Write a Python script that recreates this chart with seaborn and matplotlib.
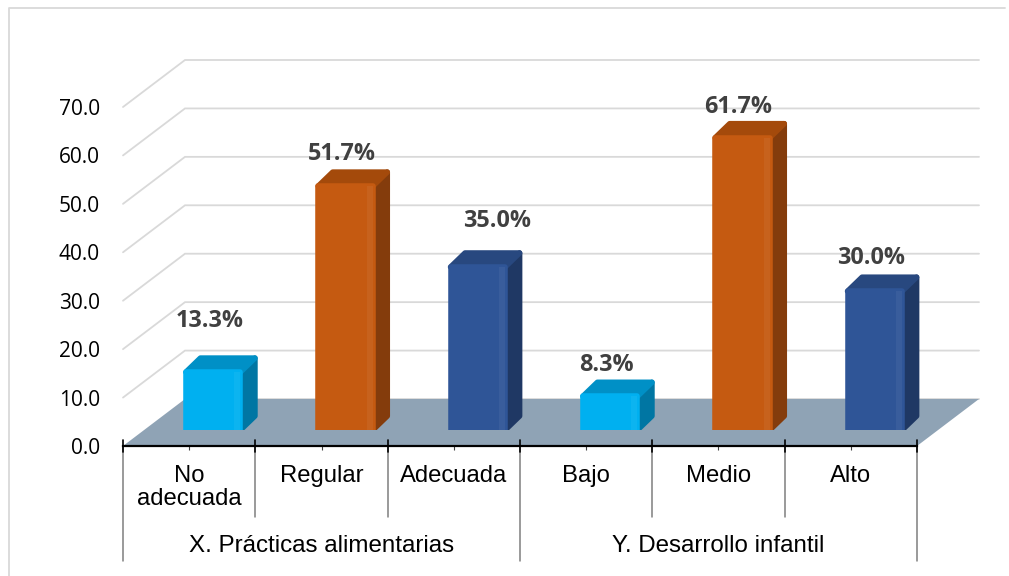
import matplotlib
matplotlib.use("Agg")
import matplotlib.pyplot as plt
from matplotlib.lines import Line2D
from matplotlib.patches import Polygon, Rectangle
import pandas as pd
import seaborn as sns

# Datos
categorias = ["No\nadecuada", "Regular", "Adecuada", "Bajo", "Medio", "Alto"]
valores = [13.3, 51.7, 35.0, 8.3, 61.7, 30.0]
etiquetas = ["13.3%", "51.7%", "35.0%", "8.3%", "61.7%", "30.0%"]
grupos = ["X. Prácticas alimentarias", "Y. Desarrollo infantil"]
ticks_y = [0, 10, 20, 30, 40, 50, 60, 70]

# Colores
col_frente = ["#00B0F0", "#C55A11", "#2F5597", "#00B0F0", "#C55A11", "#2F5597"]
col_lado = ["#0076A3", "#843C0C", "#1F3864", "#0076A3", "#843C0C", "#1F3864"]
col_techo = ["#0090C6", "#A44A0B", "#28487F", "#0090C6", "#A44A0B", "#28487F"]
col_piso = "#8FA3B5"
col_grid = "#D9D9D9"

W, H = 1009, 576


def eje_px(fig, izq, der, arriba, abajo):
    return fig.add_axes([izq / W, 1 - abajo / H, (der - izq) / W, (abajo - arriba) / H])


sns.set_theme(style="white")
plt.rcParams["font.family"] = ["Liberation Sans", "DejaVu Sans"]

fig = plt.figure(figsize=(W / 100, H / 100), dpi=100, facecolor="white")
# Marco: en la imagen solo se ven el borde izquierdo y el superior
fig.add_artist(Line2D([8.5 / W, 8.5 / W, 1005 / W], [0, 1 - 8 / H, 1 - 8 / H], transform=fig.transFigure,
                      color="#D9D9D9", lw=1.3))

# Eje principal: paredes, piso y etiquetas
ax = eje_px(fig, 123, 917, 107, 446)
ax.set_xlim(-0.5, 5.5)
ax.set_ylim(0, 70)
ax.patch.set_visible(False)
prof_x = 62 / 132.33
prof_y = 47 / 4.843

for v in ticks_y[1:]:
    ax.plot([-0.5, -0.5 + prof_x, 5.5 + prof_x], [v, v + prof_y, v + prof_y],
            color=col_grid, lw=1.3, clip_on=False, zorder=1, solid_joinstyle="miter")
ax.plot([-0.5 + prof_x, 5.5 + prof_x], [prof_y, prof_y], color=col_grid, lw=1.3, clip_on=False, zorder=1)
ax.add_patch(Polygon([(-0.5, 0), (5.5, 0), (5.5 + prof_x, prof_y), (-0.5 + prof_x, prof_y)],
                     closed=True, facecolor=col_piso, edgecolor="none", clip_on=False, zorder=2))

sns.despine(ax=ax, left=True, top=True, right=True)
ax.spines["bottom"].set_color("black")
ax.spines["bottom"].set_linewidth(1.6)
ax.spines["bottom"].set_zorder(5)
ax.set_yticks(ticks_y)
ax.set_yticklabels([f"{v:.1f}" for v in ticks_y], fontsize=15, color="black",
                   family=["Open Sans", "DejaVu Sans"])
ax.tick_params(axis="y", length=0, pad=16.5)
ax.set_xticks(range(6))
ax.set_xticklabels(categorias, fontsize=17.2, color="black", linespacing=1.02)
ax.tick_params(axis="x", length=3, width=0.8, color="#404040", pad=11, bottom=True)

# Separadores de categorias y grupos
for i in range(7):
    x = i - 0.5
    abajo = -23.7 if i in (0, 3, 6) else -14.7
    ax.plot([x, x], [0, abajo], color="#7F7F7F", lw=1.1, clip_on=False, zorder=3)
    ax.plot([x, x], [1.3, -1.3], color="black", lw=1.2, clip_on=False, zorder=6)

ax.text(1.0, -20.7, grupos[0], ha="center", va="center", fontsize=17.4, color="black")
ax.text(4.0, -20.7, grupos[1], ha="center", va="center", fontsize=17.4, color="black")

# Barras en un eje propio, desplazado hacia el fondo del piso
BASE_PX = 430
ax_b = eje_px(fig, 147, 941, 30, BASE_PX)
df = pd.DataFrame({"categoria": categorias, "valor": valores})
sns.barplot(data=df, x="categoria", y="valor", hue="categoria", palette=col_frente,
            width=0.412, dodge=False, legend=False, saturation=1, ax=ax_b,
            edgecolor=None, linewidth=0)
ax_b.set_xlim(-0.5, 5.5)
ax_b.set_ylim(5 / 4.843, (435 - 30) / 4.843)
ax_b.axis("off")
ax_b.patch.set_visible(False)

dx = 14.5 / 132.33
dy = 14 / 4.843
ymin = ax_b.get_ylim()[0]
barras = list(ax_b.patches)
for i, barra in enumerate(barras):
    x0 = barra.get_x()
    x1 = x0 + barra.get_width()
    top = barra.get_height() - 1.5 / 4.843
    barra.set_height(top)
    barra.set_edgecolor(col_frente[i])
    barra.set_linewidth(4)
    barra.set_joinstyle("round")
    barra.set_zorder(4)
    lado = Polygon([(x1, ymin), (x1 + dx, ymin + dy), (x1 + dx, top + dy), (x1, top)], closed=True,
                   facecolor=col_lado[i], edgecolor=col_lado[i], lw=4, joinstyle="round", zorder=3)
    techo = Polygon([(x0, top), (x0 + dx, top + dy), (x1 + dx, top + dy), (x1, top)], closed=True,
                    facecolor=col_techo[i], edgecolor=col_techo[i], lw=4, joinstyle="round", zorder=3)
    ax_b.add_patch(lado)
    ax_b.add_patch(techo)
    # brillo vertical cerca del borde derecho
    ax_b.add_patch(Rectangle((x1 - 6 / 132.33, ymin), 6 / 132.33, top - ymin, facecolor="white",
                             alpha=0.05, edgecolor="none", zorder=5))

# Etiquetas de datos (desplazamiento en pixeles respecto a la barra)
etq_dx = [-3, -4, 19, -4, -4, -4]
etq_dy = [51, 32, 46, 31, 31, 33]
for i, barra in enumerate(barras):
    ax_b.annotate(etiquetas[i], (barra.get_x() + barra.get_width() / 2, barra.get_height()),
                  xytext=(etq_dx[i], etq_dy[i]), textcoords="offset pixels", ha="center", va="center",
                  fontsize=16.8, fontweight="bold", color="#404040", family=["Open Sans", "DejaVu Sans"],
                  annotation_clip=False, zorder=7)

fig.savefig("out.png", dpi=100)
